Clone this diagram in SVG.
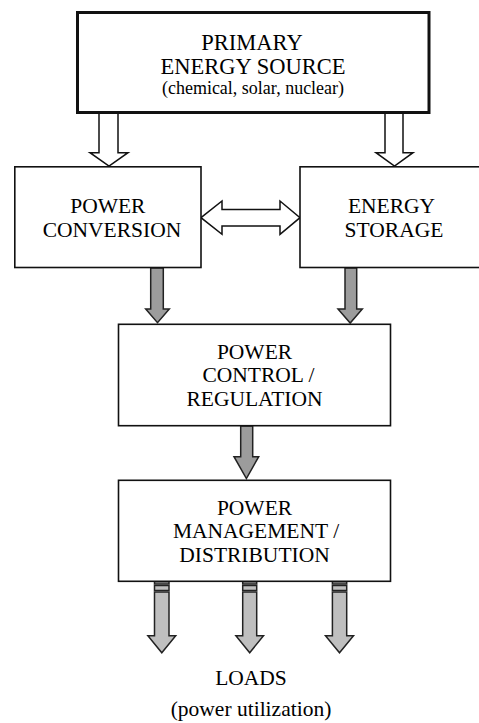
<svg xmlns="http://www.w3.org/2000/svg" width="479" height="723" viewBox="0 0 479 723">
<style>
.box{fill:#fff;stroke:#111;stroke-width:1.6}
.thick{fill:#fff;stroke:#111;stroke-width:3}
text{font-family:'Liberation Serif','Times New Roman',serif;font-size:21.5px;fill:#000;text-anchor:middle}
.tb{font-size:22.5px}
.ts{font-size:18px}
.hollow{fill:#fff;stroke:#111;stroke-width:1.5;stroke-linejoin:miter}
.g1{fill:#9c9c9c;stroke:#222;stroke-width:1.5}
.g2{fill:#bfbfbf;stroke:#222;stroke-width:1.5}
</style>
<rect width="479" height="723" fill="#fff"/>
<g id="connectors">
<polygon class="hollow" points="99,113 118,113 118,152.7 128,152.7 109,166 90,152.7 99,152.7"/>
<polygon class="hollow" points="385,113 403,113 403,152.7 413,152.7 394.5,166 376,152.7 385,152.7"/>
<polygon class="hollow" points="201,217.7 222,201 222,209.5 280,209.5 280,201 300,217.7 280,234.3 280,226 222,226 222,234.3"/>
<polygon class="g1" points="150.7,268 163.3,268 163.3,309 169.3,309 157.5,322.7 145.7,309 150.7,309"/>
<polygon class="g1" points="345,268 356.7,268 356.7,309 362.3,309 350.2,323 338,309 345,309"/>
<polygon class="g1" points="240.7,426 252.7,426 252.7,456.7 258.7,456.7 246.4,478.5 234,456.7 240.7,456.7"/>
<g id="out-left">
<rect class="g2" x="154.5" y="581.7" width="14.5" height="2.3"/>
<rect class="g2" x="154.5" y="585.5" width="14.5" height="5"/>
<polygon class="g2" points="154.5,592 169,592 169,635.7 175.7,635.7 161.8,652.7 147.9,635.7 154.5,635.7"/>
</g>
<g id="out-mid">
<rect class="g2" x="242.7" y="581.7" width="14" height="2.3"/>
<rect class="g2" x="242.7" y="585.5" width="14" height="5"/>
<polygon class="g2" points="242.7,592 256.7,592 256.7,635.7 263.5,635.7 249.7,652.7 235.9,635.7 242.7,635.7"/>
</g>
<g id="out-right">
<rect class="g2" x="332.4" y="581.7" width="14.3" height="2.3"/>
<rect class="g2" x="332.4" y="585.5" width="14.3" height="5"/>
<polygon class="g2" points="332.4,592 346.7,592 346.7,635.7 353.5,635.7 339.5,652.7 325.5,635.7 332.4,635.7"/>
</g>
</g>
<g id="primary">
<rect class="thick" x="77.5" y="12.5" width="351.5" height="100"/>
<text class="tb" x="252" y="49.5">PRIMARY</text>
<text class="tb" x="253" y="74">ENERGY SOURCE</text>
<text class="ts" x="253" y="93.5">(chemical, solar, nuclear)</text>
</g>
<g id="conversion">
<rect class="box" x="14.8" y="166.8" width="186.2" height="100.7"/>
<text x="107.8" y="213.3">POWER</text>
<text x="112" y="236.7">CONVERSION</text>
</g>
<g id="storage">
<rect class="box" x="300" y="166.8" width="190" height="100.7"/>
<text x="391.5" y="213.3">ENERGY</text>
<text x="394" y="236.7">STORAGE</text>
</g>
<g id="control">
<rect class="box" x="118.5" y="324.3" width="272" height="101.4"/>
<text x="254.5" y="359.3">POWER</text>
<text x="258.5" y="382">CONTROL /</text>
<text x="254.5" y="406">REGULATION</text>
</g>
<g id="management">
<rect class="box" x="118.5" y="480.3" width="272" height="101"/>
<text x="254.5" y="515">POWER</text>
<text x="256" y="538.3">MANAGEMENT /</text>
<text x="254.5" y="561.7">DISTRIBUTION</text>
</g>
<g id="loads">
<text x="251" y="685">LOADS</text>
<text x="251" y="716">(power utilization)</text>
</g>
</svg>
